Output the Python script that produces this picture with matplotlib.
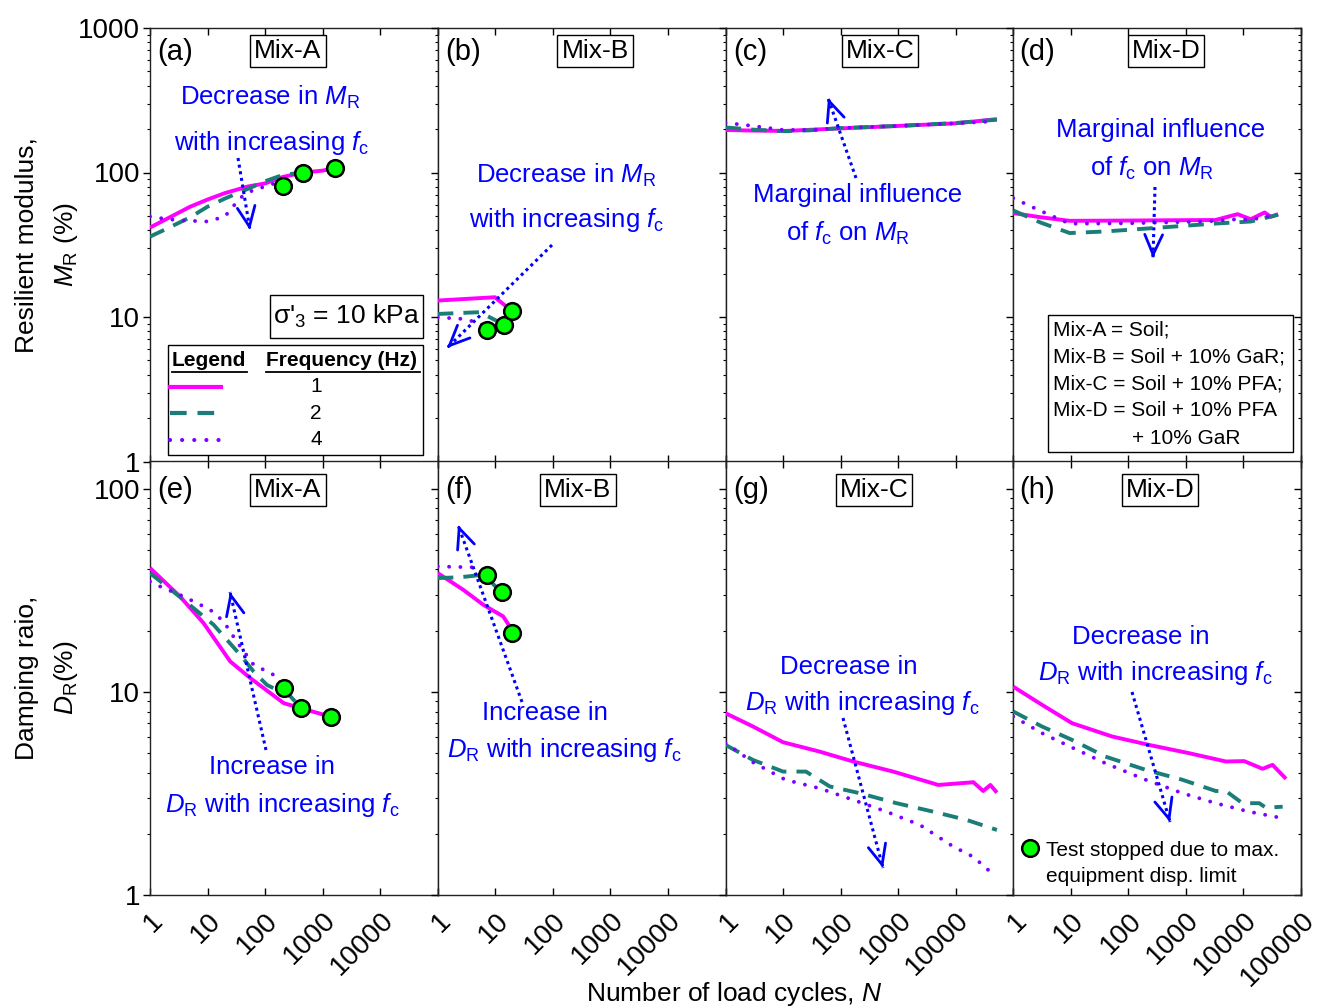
import numpy as np
import matplotlib
matplotlib.use("Agg")
import matplotlib.pyplot as plt
from matplotlib.ticker import FixedLocator, FixedFormatter, LogLocator, NullFormatter
from matplotlib.lines import Line2D
from matplotlib.patches import Rectangle, FancyArrowPatch

plt.rcParams['font.family'] = ['Liberation Sans', 'DejaVu Sans']
plt.rcParams['mathtext.fontset'] = 'custom'
plt.rcParams['mathtext.rm'] = 'Liberation Sans'
plt.rcParams['mathtext.it'] = 'Liberation Sans:italic'
plt.rcParams['mathtext.bf'] = 'Liberation Sans:bold'

# ---------------- data ----------------
# Panel (a) Mix-A resilient modulus
a_N1 = [1, 2, 5, 10, 20, 50, 100, 200, 460, 1000, 1660]
a_M1 = [41.6, 48, 58, 65, 72, 80, 84, 93, 100, 103, 108]
a_N2 = [1, 2, 5, 10, 20, 50, 100, 200, 460]
a_M2 = [36, 41, 49, 58, 66, 77, 87, 96, 100]
a_N4 = [1, 2, 4, 10, 20, 37, 60, 100, 160, 208]
a_M4 = [49.6, 47.5, 46.5, 45.8, 49.6, 66.8, 75, 80, 85, 81]
a_stop_N = [208, 460, 1660]
a_stop_M = [81, 100, 108]

# Panel (b) Mix-B
b_N1 = [1, 9.8, 19.2]
b_M1 = [13.0, 13.7, 11.06]
b_N2 = [1, 5.4, 14.1]
b_M2 = [10.5, 10.8, 8.86]
b_N4 = [1, 2.7, 5.4, 7.2]
b_M4 = [9.95, 9.7, 9.1, 8.17]
b_stop_N = [7.2, 14.1, 19.2]
b_stop_M = [8.17, 8.86, 11.06]

# Panel (c) Mix-C
c_N1 = [1, 3, 11, 100, 1000, 10000, 52000]
c_M1 = [197, 195, 194, 202, 210, 219, 234]
c_N2 = [1, 3, 11, 30, 100, 1000, 10000, 52000]
c_M2 = [205, 198, 193, 196, 203, 210, 220, 232]
c_N4 = [1, 3, 10, 30, 100, 1000, 10000, 45000]
c_M4 = [221, 210, 197, 197, 203, 210, 219, 226]

# Panel (d) Mix-D
d_N1 = [1, 3, 9.6, 100, 1000, 3250, 7900, 13400, 23300, 30000, 40000]
d_M1 = [52.4, 49, 46.3, 46.5, 46.8, 46.9, 51.5, 47.5, 52.9, 49.4, 51.5]
d_N2 = [1, 3, 9.6, 40, 260, 2900, 13400, 40000]
d_M2 = [54.6, 45, 38.1, 39.1, 41.2, 44.2, 45.8, 51]
d_N4 = [1, 2.7, 9.6, 100, 2200, 7900, 13400, 23300, 40000]
d_M4 = [66.5, 55.2, 44.2, 44.5, 45.8, 47.5, 47, 49.4, 51]

# Panel (e) Mix-A damping ratio
e_N1 = [1, 3.3, 8.5, 24.8, 55, 210, 420, 1370]
e_D1 = [40.7, 29.5, 21.8, 14.1, 11.7, 8.8, 8.3, 7.55]
e_N2 = [1, 3.8, 12.7, 37, 63, 108, 275, 420]
e_D2 = [38.4, 28.4, 21.4, 15.2, 12.6, 10.8, 9.5, 8.35]
e_N4 = [1, 1.5, 3.8, 11, 19, 32, 63, 160, 210]
e_D4 = [34.9, 33, 29.5, 25.4, 22.2, 17.7, 13.6, 11.9, 10.5]
e_stop_N = [210, 420, 1370]
e_stop_D = [10.5, 8.35, 7.55]

# Panel (f) Mix-B
f_N1 = [1, 2.76, 6.2, 13.7, 17, 19.2]
f_D1 = [38.4, 31.8, 26.8, 23.5, 21.4, 19.5]
f_N2 = [1, 2.4, 6.2, 12.9]
f_D2 = [36.3, 36.6, 37.7, 30.9]
f_N4 = [1, 4.1, 7.2]
f_D4 = [41.4, 41, 37.7]
f_stop_N = [7.2, 12.9, 19.2]
f_stop_D = [37.7, 30.9, 19.5]

# Panel (g) Mix-C
g_N1 = [1, 3, 9.95, 43, 165, 820, 5000, 20300, 30000, 40000, 52000]
g_D1 = [7.85, 6.75, 5.65, 5.08, 4.54, 4.05, 3.48, 3.59, 3.25, 3.48, 3.19]
g_N2 = [1, 3, 10, 25, 65, 215, 940, 4100, 15600, 52000]
g_D2 = [5.48, 4.62, 4.05, 4.05, 3.42, 3.17, 2.83, 2.57, 2.34, 2.09]
g_N4 = [1, 3, 11, 43, 165, 630, 2400, 9100, 20300, 40000]
g_D4 = [5.6, 4.5, 3.69, 3.35, 2.94, 2.57, 2.21, 1.73, 1.54, 1.30]

# Panel (h) Mix-D
h_N1 = [1, 3.16, 10.5, 52, 228, 1130, 4950, 10300, 21500, 32000, 55000]
h_D1 = [10.6, 8.63, 7.01, 6.03, 5.48, 4.99, 4.54, 4.56, 4.18, 4.37, 3.73]
h_N2 = [1, 3.16, 10.5, 40, 200, 870, 3300, 4950, 9600, 18800, 24600, 48000]
h_D2 = [8.0, 6.75, 5.8, 4.8, 4.13, 3.69, 3.25, 3.25, 2.83, 2.83, 2.69, 2.72]
h_N4 = [1, 3.16, 10.5, 40, 200, 870, 3300, 12600, 55000]
h_D4 = [7.56, 6.26, 5.32, 4.45, 3.69, 3.17, 2.83, 2.57, 2.37]

mix_names = ["Mix-A", "Mix-B", "Mix-C", "Mix-D"]
panel_tags = ["(a)", "(b)", "(c)", "(d)", "(e)", "(f)", "(g)", "(h)"]
freq_labels = ["1", "2", "4"]
x_ticks = [1, 10, 100, 1000, 10000, 100000]
x_ticklabels = ["1", "10", "100", "1000", "10000", "100000"]
top_yticks = [1, 10, 100, 1000]
bot_yticks = [1, 10, 100]

# ---------------- styling ----------------
W, H = 1321, 1007
C1, C2, C4 = '#FF00FF', '#1B7D78', '#7F00FF'
BLUE = '#0000FF'
LW = 2.8

fig, axes = plt.subplots(2, 4, figsize=(W / 100, H / 100), dpi=100)
fig.subplots_adjust(left=150 / W, right=1301 / W, top=1 - 28 / H, bottom=1 - 895 / H,
                    wspace=0, hspace=0)

def fx(x):
    return x / W

def fy(y):
    return 1 - y / H

series = [
    (a_N1, a_M1, a_N2, a_M2, a_N4, a_M4, a_stop_N, a_stop_M),
    (b_N1, b_M1, b_N2, b_M2, b_N4, b_M4, b_stop_N, b_stop_M),
    (c_N1, c_M1, c_N2, c_M2, c_N4, c_M4, None, None),
    (d_N1, d_M1, d_N2, d_M2, d_N4, d_M4, None, None),
    (e_N1, e_D1, e_N2, e_D2, e_N4, e_D4, e_stop_N, e_stop_D),
    (f_N1, f_D1, f_N2, f_D2, f_N4, f_D4, f_stop_N, f_stop_D),
    (g_N1, g_D1, g_N2, g_D2, g_N4, g_D4, None, None),
    (h_N1, h_D1, h_N2, h_D2, h_N4, h_D4, None, None),
]

for i, ax in enumerate(axes.flat):
    n1, y1, n2, y2, n4, y4, sn, sy = series[i]
    ax.plot(n1, y1, color=C1, lw=LW, solid_capstyle='butt', zorder=3)
    ax.plot(n2, y2, color=C2, lw=LW, dashes=(4, 2.6), zorder=3)
    ax.plot(n4, y4, color=C4, lw=LW, dashes=(0.01, 2.9), dash_capstyle='round', zorder=3)
    if sn is not None:
        ax.plot(sn, sy, 'o', ms=12, mfc='#00FF00', mec='black', mew=1.8, ls='none', zorder=5)
    ax.set_xscale('log')
    ax.set_yscale('log')
    ax.set_xlim(1, 100000)
    row, col = divmod(i, 4)
    if row == 0:
        ax.set_ylim(1, 1000)
        yt = top_yticks
    else:
        ax.set_ylim(1, 136)
        yt = bot_yticks
    ax.yaxis.set_major_locator(FixedLocator(yt))
    ax.yaxis.set_minor_locator(LogLocator(base=10, subs=np.arange(2, 10)))
    ax.xaxis.set_major_locator(FixedLocator(x_ticks))
    ax.xaxis.set_minor_locator(LogLocator(base=10, subs=np.arange(2, 10)))
    ax.yaxis.set_minor_formatter(NullFormatter())
    ax.xaxis.set_minor_formatter(NullFormatter())
    if col == 0:
        ax.yaxis.set_major_formatter(FixedFormatter([str(v) for v in yt]))
    else:
        ax.yaxis.set_major_formatter(NullFormatter())
    if row == 1:
        labs = list(x_ticklabels)
        if col < 3:
            labs[-1] = ""
        ax.xaxis.set_major_formatter(FixedFormatter(labs))
        for t in ax.get_xticklabels():
            t.set_rotation(45)
            t.set_ha('right')
            t.set_va('top')
            t.set_rotation_mode('anchor')
    else:
        ax.xaxis.set_major_formatter(NullFormatter())
    ax.tick_params(axis='y', which='major', direction='out', length=5, width=1,
                   labelsize=20, pad=2, left=True, right=False)
    ax.tick_params(axis='y', which='minor', direction='out', length=2.5, width=0.8,
                   left=True, right=False)
    ax.tick_params(axis='x', which='major', direction='in', length=5, width=1,
                   labelsize=20, pad=9, top=True, bottom=True)
    ax.tick_params(axis='x', which='minor', direction='in', length=2.5, width=0.8,
                   top=True, bottom=True)
    for s in ax.spines.values():
        s.set_linewidth(1.0)
        s.set_color('#222222')
    if col == 3:
        sec = ax.secondary_yaxis('right')
        sec.yaxis.set_major_locator(FixedLocator(yt))
        sec.yaxis.set_minor_locator(LogLocator(base=10, subs=np.arange(2, 10)))
        sec.yaxis.set_major_formatter(NullFormatter())
        sec.yaxis.set_minor_formatter(NullFormatter())
        sec.tick_params(which='major', direction='in', length=5, width=1)
        sec.tick_params(which='minor', direction='in', length=2.5, width=0.8)
        sec.spines['right'].set_linewidth(1.0)

# ---------------- panel tags and mix boxes ----------------
tag_pos = [(157, 52), (445, 52), (733, 52), (1019, 52),
           (157, 490), (445, 490), (733, 490), (1019, 490)]
box_pos = [(288, 51), (595, 51), (880, 51), (1166, 51),
           (288, 490), (578, 490), (874, 490), (1160, 490)]
for i in range(8):
    x, y = tag_pos[i]
    fig.text(fx(x), fy(y), panel_tags[i], fontsize=21, ha='left', va='center')
    x, y = box_pos[i]
    fig.text(fx(x), fy(y), mix_names[i % 4], fontsize=19, ha='center', va='center',
             bbox=dict(boxstyle='square,pad=0.15', fc='white', ec='black', lw=1.0))

# ---------------- annotations ----------------
def blue_text(x, y, s):
    fig.text(fx(x), fy(y), s, fontsize=18.5, color=BLUE, ha='center', va='center')

def dotted_arrow(x0, y0, x1, y1):
    fig.add_artist(Line2D([fx(x0), fx(x1)], [fy(y0), fy(y1)], transform=fig.transFigure,
                          color=BLUE, lw=2.2, ls=(0, (1, 1.2)), zorder=8))
    dx, dy = x1 - x0, y1 - y0
    L = np.hypot(dx, dy)
    xs, ys = x1 - dx / L * 3, y1 - dy / L * 3
    arr = FancyArrowPatch((fx(xs), fy(ys)), (fx(x1), fy(y1)), transform=fig.transFigure,
                          arrowstyle='->,head_length=0.9,head_width=0.4', mutation_scale=16,
                          color=BLUE, lw=2.0, shrinkA=0, shrinkB=0, zorder=8)
    fig.add_artist(arr)

MR = r"$M_\mathrm{R}$"
DR = r"$D_\mathrm{R}$"
FC = r"$f_\mathrm{c}$"

blue_text(270, 97, "Decrease in " + MR)
blue_text(272, 143, "with increasing " + FC)
dotted_arrow(238, 158, 250, 230)

blue_text(566, 175, "Decrease in " + MR)
blue_text(567, 220, "with increasing " + FC)
dotted_arrow(552, 245, 447, 348)

blue_text(858, 195, "Marginal influence")
blue_text(848, 233, "of " + FC + " on " + MR)
dotted_arrow(856, 178, 828, 98)

blue_text(1161, 130, "Marginal influence")
blue_text(1152, 168, "of " + FC + " on " + MR)
dotted_arrow(1155, 187, 1153, 258)

blue_text(272, 767, "Increase in")
blue_text(282, 805, DR + " with increasing " + FC)
dotted_arrow(266, 750, 230, 592)

blue_text(545, 713, "Increase in")
blue_text(564, 750, DR + " with increasing " + FC)
dotted_arrow(522, 702, 458, 525)

blue_text(849, 667, "Decrease in")
blue_text(862, 703, DR + " with increasing " + FC)
dotted_arrow(843, 718, 883, 868)

blue_text(1141, 637, "Decrease in")
blue_text(1155, 673, DR + " with increasing " + FC)
dotted_arrow(1132, 692, 1170, 822)

# ---------------- sigma box ----------------
fig.add_artist(Rectangle((fx(270), fy(338)), fx(423) - fx(270), fy(295) - fy(338),
                         transform=fig.transFigure, fc='white', ec='black', lw=1.0, zorder=6))
fig.text(fx(346), fy(316), r"σ'$_3$ = 10 kPa", fontsize=19, ha='center', va='center', zorder=7)

# ---------------- frequency legend ----------------
fig.add_artist(Rectangle((fx(168), fy(455)), fx(423) - fx(168), fy(345) - fy(455),
                         transform=fig.transFigure, fc='white', ec='black', lw=1.0, zorder=6))
fig.text(fx(172), fy(360), "Legend", fontsize=15, fontweight='bold', ha='left', va='center', zorder=7)
fig.text(fx(266), fy(360), "Frequency (Hz)", fontsize=15, fontweight='bold', ha='left', va='center', zorder=7)
for (xa, xb) in [(172, 247), (266, 420)]:
    fig.add_artist(Line2D([fx(xa), fx(xb)], [fy(372), fy(372)], transform=fig.transFigure,
                          color='black', lw=1.3, zorder=7))
leg_y = [387, 413, 440]
leg_styles = [dict(color=C1, lw=3.0), dict(color=C2, lw=3.0, dashes=(4, 2.6)),
              dict(color=C4, lw=3.0, dashes=(0.01, 2.9), dash_capstyle='round')]
for k in range(3):
    fig.add_artist(Line2D([fx(170), fx(221)], [fy(leg_y[k]), fy(leg_y[k])],
                          transform=fig.transFigure, zorder=7, **leg_styles[k]))
    fig.text(fx(316), fy(leg_y[k]), freq_labels[k], fontsize=15, ha='center', va='center', zorder=7)

# ---------------- mix definition box ----------------
fig.add_artist(Rectangle((fx(1048), fy(452)), fx(1293) - fx(1048), fy(315) - fy(452),
                         transform=fig.transFigure, fc='white', ec='black', lw=1.0, zorder=6))
mix_lines = ["Mix-A = Soil;", "Mix-B = Soil + 10% GaR;", "Mix-C = Soil + 10% PFA;",
             "Mix-D = Soil + 10% PFA"]
for k, s in enumerate(mix_lines):
    fig.text(fx(1053), fy(330 + 27 * k), s, fontsize=15, ha='left', va='center', zorder=7)
fig.text(fx(1132), fy(438), "+ 10% GaR", fontsize=15, ha='left', va='center', zorder=7)

# ---------------- stop marker note ----------------
fig.add_artist(Line2D([fx(1030)], [fy(848)], transform=fig.transFigure, marker='o', ms=12,
                      mfc='#00FF00', mec='black', mew=1.8, ls='none'))
fig.text(fx(1046), fy(850), "Test stopped due to max.", fontsize=15, ha='left', va='center')
fig.text(fx(1046), fy(876), "equipment disp. limit", fontsize=15, ha='left', va='center')

# ---------------- axis labels ----------------
fig.text(fx(27), fy(245), "Resilient modulus,", fontsize=19, rotation=90, ha='center', va='center')
fig.text(fx(66), fy(245), MR + " (%)", fontsize=19, rotation=90, ha='center', va='center')
fig.text(fx(27), fy(678), "Damping raio,", fontsize=19, rotation=90, ha='center', va='center')
fig.text(fx(66), fy(678), DR + "(%)", fontsize=19, rotation=90, ha='center', va='center')
fig.text(fx(734), fy(994), "Number of load cycles, $N$", fontsize=19, ha='center', va='center')

fig.savefig("out.png", dpi=100)
